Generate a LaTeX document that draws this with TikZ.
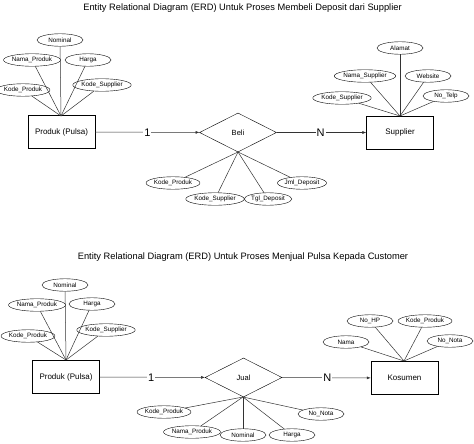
\documentclass[tikz,border=0pt]{standalone}
\usepackage{fontspec}
\setmainfont{Liberation Sans}
\usetikzlibrary{arrows.meta,shapes.geometric}

\begin{document}
\begin{tikzpicture}[
    x=1pt, y=-1pt,
    entity/.style={rectangle, draw, minimum width=67pt, minimum height=33pt, inner sep=0pt, font=\fontsize{8}{9}\selectfont},
    rel/.style={diamond, draw, aspect=2, minimum width=77pt, minimum height=39pt, inner sep=0pt, font=\fontsize{7.5}{8}\selectfont},
    attr/.style={ellipse, draw, minimum width=46pt, minimum height=12.5pt, inner sep=0pt, font=\fontsize{6.3}{7}\selectfont},
    card/.style={fill=white, inner sep=1pt, font=\fontsize{11}{12}\selectfont},
    title/.style={font=\fontsize{9.3}{11}\selectfont},
    link/.style={draw=black!80, line width=0.5pt},
    tip/.style={link, -{Latex[length=4pt, width=3pt]}},
]
    \useasboundingbox (0,0) rectangle (474,444);

    % ---- pembelian deposit
    \node[title] (t1) at (242.5,8) {Entity Relational Diagram (ERD) Untuk Proses Membeli Deposit dari Supplier};

    \node[entity] (p1) at (61.5,132) {Produk (Pulsa)};
    \node[rel] (b1) at (238,132.5) {Beli};
    \node[entity] (s1) at (400,132.5) {Supplier};
    \coordinate (p1h) at (61,116);
    \coordinate (b1h) at (238,152);
    \coordinate (s1h) at (400,116);

    \node[attr] (p1a) at (60,40) {Nominal};
    \node[attr] (p1b) at (32,60) {Nama\_Produk};
    \node[attr] (p1c) at (88,60) {Harga};
    \node[attr] (p1d) at (23,90) {Kode\_Produk};
    \node[attr] (p1e) at (102,85) {Kode\_Supplier};

    \node[attr] (b1a) at (173,183) {Kode\_Produk};
    \node[attr] (b1b) at (215,199) {Kode\_Supplier};
    \node[attr] (b1c) at (268,199) {Tgl\_Deposit};
    \node[attr] (b1d) at (302,183) {Jml\_Deposit};

    \node[attr] (s1a) at (400,48) {Alamat};
    \node[attr] (s1b) at (365,76) {Nama\_Supplier};
    \node[attr] (s1c) at (428,76) {Website};
    \node[attr] (s1d) at (342,98) {Kode\_Supplier};
    \node[attr] (s1e) at (446,96) {No\_Telp};

    \foreach \a in {p1a,p1b,p1c,p1d,p1e} \draw[link] (\a) -- (p1h);
    \foreach \a in {b1a,b1b,b1c,b1d} \draw[link] (\a) -- (b1h);
    \foreach \a in {s1a,s1b,s1c,s1d,s1e} \draw[link] (\a) -- (s1h);

    \draw[tip] (p1) -- node[card, pos=0.5] (c1) {1} (b1);
    \draw[tip] (b1) -- node[card, pos=0.49] (n1) {N} (s1);

    % ---- penjualan pulsa
    \node[title] (t2) at (243,257) {Entity Relational Diagram (ERD) Untuk Proses Menjual Pulsa Kepada Customer};

    \node[entity] (p2) at (66,377) {Produk (Pulsa)};
    \node[rel] (j2) at (243.5,377.5) {Jual};
    \node[entity] (k2) at (404.5,378) {Kosumen};
    \coordinate (p2h) at (66,360);
    \coordinate (j2h) at (243,397);
    \coordinate (k2h) at (404,361);

    \node[attr] (p2a) at (65,285) {Nominal};
    \node[attr] (p2b) at (37,305) {Nama\_Produk};
    \node[attr] (p2c) at (92,304) {Harga};
    \node[attr] (p2d) at (28,336) {Kode\_Produk};
    \node[attr] (p2e) at (106,330) {Kode\_Supplier};

    \node[attr] (j2a) at (164,412) {Kode\_Produk};
    \node[attr] (j2b) at (192,432) {Nama\_Produk};
    \node[attr] (j2c) at (243,435) {Nominal};
    \node[attr] (j2d) at (292,435) {Harga};
    \node[attr] (j2e) at (321,414) {No\_Nota};

    \node[attr] (k2a) at (370,321) {No\_HP};
    \node[attr] (k2b) at (425,321) {Kode\_Produk};
    \node[attr] (k2c) at (346,342) {Nama};
    \node[attr] (k2d) at (450,341) {No\_Nota};

    \foreach \a in {p2a,p2b,p2c,p2d,p2e} \draw[link] (\a) -- (p2h);
    \foreach \a in {j2a,j2b,j2c,j2d,j2e} \draw[link] (\a) -- (j2h);
    \foreach \a in {k2a,k2b,k2c,k2d} \draw[link] (\a) -- (k2h);

    \draw[tip] (p2) -- node[card, pos=0.49] (c2) {1} (j2);
    \draw[tip] (j2) -- node[card, pos=0.51] (n2) {N} (k2);
\end{tikzpicture}
\end{document}
